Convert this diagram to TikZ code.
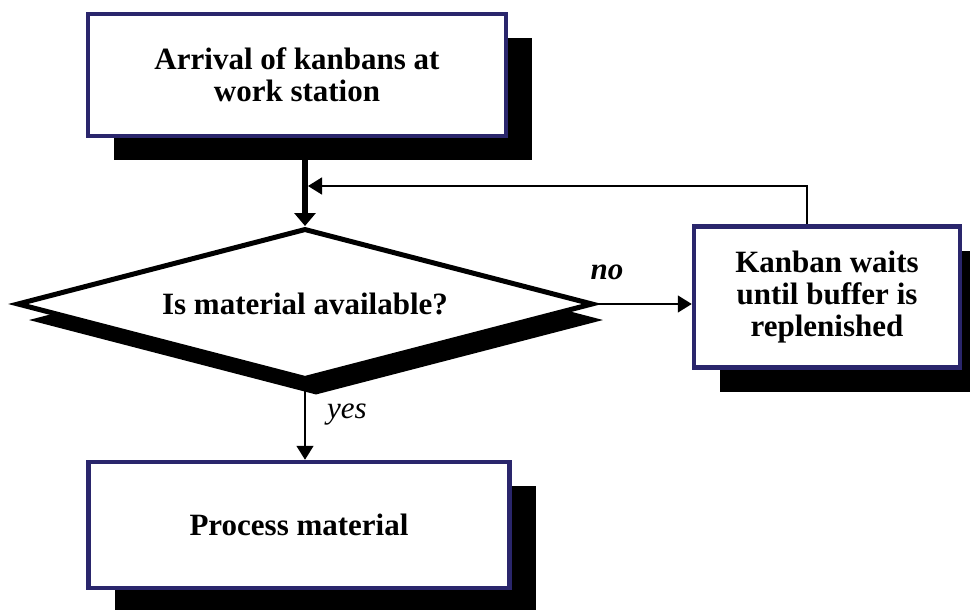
\documentclass[tikz,border=0pt]{standalone}
\usepackage{fontspec}
\setmainfont{Liberation Serif}
\usetikzlibrary{shapes.geometric,shadows,arrows.meta}
\definecolor{boxblue}{RGB}{42,38,108}

\begin{document}
\begin{tikzpicture}[x=1pt,y=-1pt,
    txt/.style={font=\fontsize{31}{32}\selectfont},
    box/.style={txt, draw=boxblue, line width=4.5pt, fill=white, align=center, inner sep=0pt,
      drop shadow={fill=black, opacity=1, shadow xshift=26pt, shadow yshift=-24pt}},
    decision/.style={txt, diamond, aspect=3.7, draw=black, line width=5pt, fill=white, inner sep=0pt,
      minimum width=576pt, minimum height=151pt,
      drop shadow={fill=black, opacity=1, shadow xshift=11pt, shadow yshift=-16pt}},
    mainline/.style={line width=6pt, -{Triangle[length=13pt,width=21pt]}},
    thinline/.style={line width=1.6pt, -{Triangle[length=14pt,width=17pt]}}]
  \useasboundingbox (0,0) rectangle (970,610);
  % boxes
  \node[box, minimum width=418pt, minimum height=122pt] (arrival) at (297,75)
    {\bfseries Arrival of kanbans at\\\bfseries work station};
  \node[decision] (avail) at (305,304) {\bfseries Is material available?};
  \node[box, minimum width=266pt, minimum height=141pt] (wait) at (827,297)
    {\bfseries Kanban waits\\\bfseries until buffer is\\\bfseries replenished};
  \node[box, minimum width=421pt, minimum height=126pt] (process) at (299,525)
    {\bfseries Process material};
  \coordinate (merge) at (avail.north |- 0,186);
  % arrows
  \draw[mainline] (arrival.south -| avail.north) -- (avail.north);
  \draw[thinline, shorten >=3pt] ([xshift=-20pt]wait.north) |- (merge);
  \draw[thinline] (avail.east) -- node[txt, above=20pt, pos=0.12] {\bfseries\itshape no}
    (avail.east -| wait.west);
  \draw[thinline] (avail.south) -- node[txt, right=18pt, pos=0.42] {\itshape yes}
    (avail.south |- process.north);
\end{tikzpicture}
\end{document}
